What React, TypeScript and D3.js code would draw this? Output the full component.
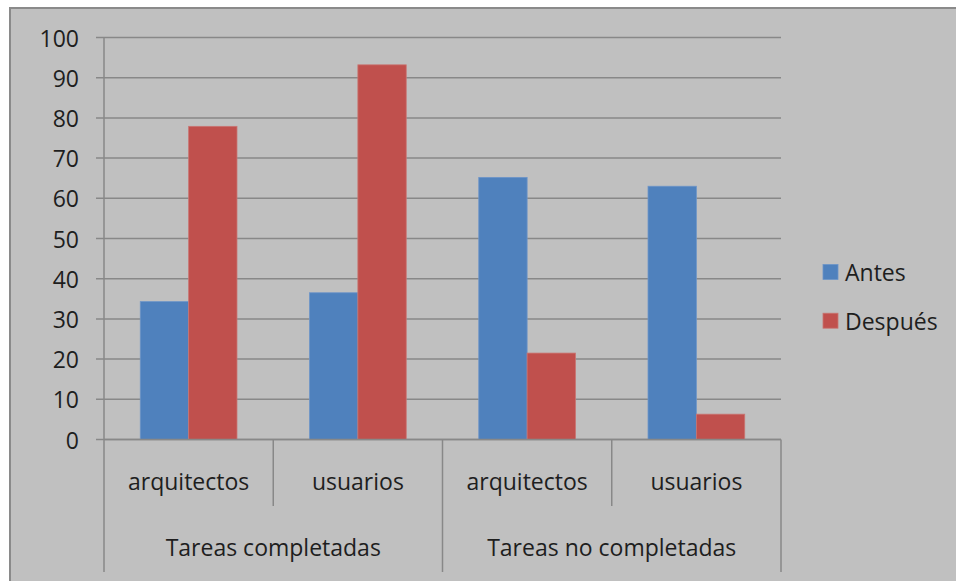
import React from "react";
import * as d3 from "d3";

// Chart data
const subCategories = ["arquitectos", "usuarios", "arquitectos", "usuarios"];
const groups = ["Tareas completadas", "Tareas no completadas"];
const seriesNames = ["Antes", "Después"];
const antes = [34.3, 36.5, 65.2, 63.0];
const despues = [77.9, 93.2, 21.5, 6.3];
const yTicks = [0, 10, 20, 30, 40, 50, 60, 70, 80, 90, 100];
const seriesColors = ["#4f81bd", "#c0504d"];
const seriesStroke = ["#6d95c8", "#c97572"];

const W = 956;
const H = 581;
const FONT = "'Open Sans', sans-serif";

export default function App() {
  const left = 104;
  const right = 781;
  const top = 37.5;
  const bottom = 439.5;

  const y = d3.scaleLinear().domain([0, 100]).range([bottom, top]);
  const x = d3
    .scaleBand<number>()
    .domain(subCategories.map((_, i) => i))
    .range([left, right])
    .paddingInner(0)
    .paddingOuter(0);
  const bw = x.bandwidth();
  const inner = d3
    .scaleBand<string>()
    .domain(seriesNames)
    .range([0, bw])
    .paddingInner(0)
    .paddingOuter(0.75);

  const values = [antes, despues];
  const gridColor = "#888888";
  const textColor = "#1e1e1e";

  return (
    <svg
      width={W}
      height={H}
      style={{ position: "absolute", left: 0, top: 0, display: "block" }}
      fontFamily={FONT}
    >
      <rect x={0} y={0} width={W} height={H} fill="#ffffff" />
      {/* chart area frame */}
      <rect x={10} y={8} width={W + 20} height={H + 20} fill="#c0c0c0" stroke="#8a8a8a" strokeWidth={2} />

      {/* horizontal gridlines and tick marks */}
      {yTicks.map((t) => (
        <g key={t}>
          <line x1={96} x2={right} y1={y(t)} y2={y(t)} stroke={gridColor} strokeWidth={1.5} />
          <text
            x={79}
            y={y(t)}
            textAnchor="end"
            dominantBaseline="central"
            fontSize={23}
            fill={textColor}
          >
            {t}
          </text>
        </g>
      ))}

      {/* value axis */}
      <line x1={left} x2={left} y1={top} y2={bottom} stroke={gridColor} strokeWidth={1.5} />

      {/* bars */}
      {seriesNames.map((s, si) =>
        values[si].map((v, i) => (
          <rect
            key={s + i}
            x={(x(i) as number) + (inner(s) as number)}
            y={y(v)}
            width={inner.bandwidth()}
            height={y(0) - y(v)}
            fill={seriesColors[si]}
            stroke={seriesStroke[si]}
            strokeWidth={0.8}
          />
        ))
      )}

      {/* category axis baseline */}
      <line x1={left} x2={right} y1={bottom} y2={bottom} stroke={gridColor} strokeWidth={1.5} />

      {/* category separators */}
      {subCategories.map((_, i) => (
        <line
          key={"sep" + i}
          x1={x(i) as number}
          x2={x(i) as number}
          y1={bottom}
          y2={i % 2 === 0 ? 572 : 506}
          stroke={gridColor}
          strokeWidth={1.5}
        />
      ))}
      <line x1={right} x2={right} y1={bottom} y2={572} stroke={gridColor} strokeWidth={1.5} />

      {/* sub-category labels */}
      {subCategories.map((c, i) => (
        <text
          key={"c" + i}
          x={(x(i) as number) + bw / 2}
          y={490}
          textAnchor="middle"
          fontSize={23}
          fill={textColor}
        >
          {c}
        </text>
      ))}

      {/* group labels */}
      {groups.map((g, gi) => (
        <text
          key={g}
          x={(x(gi * 2) as number) + bw}
          y={556}
          textAnchor="middle"
          fontSize={23}
          fill={textColor}
        >
          {g}
        </text>
      ))}

      {/* legend */}
      {seriesNames.map((s, si) => (
        <g key={"leg" + s} transform={`translate(823, ${264.5 + si * 48.7})`}>
          <rect width={15} height={15} fill={seriesColors[si]} stroke={seriesStroke[si]} strokeWidth={0.8} />
          <text x={22} y={7.5} dominantBaseline="central" fontSize={23} fill={textColor}>
            {s}
          </text>
        </g>
      ))}
    </svg>
  );
}
